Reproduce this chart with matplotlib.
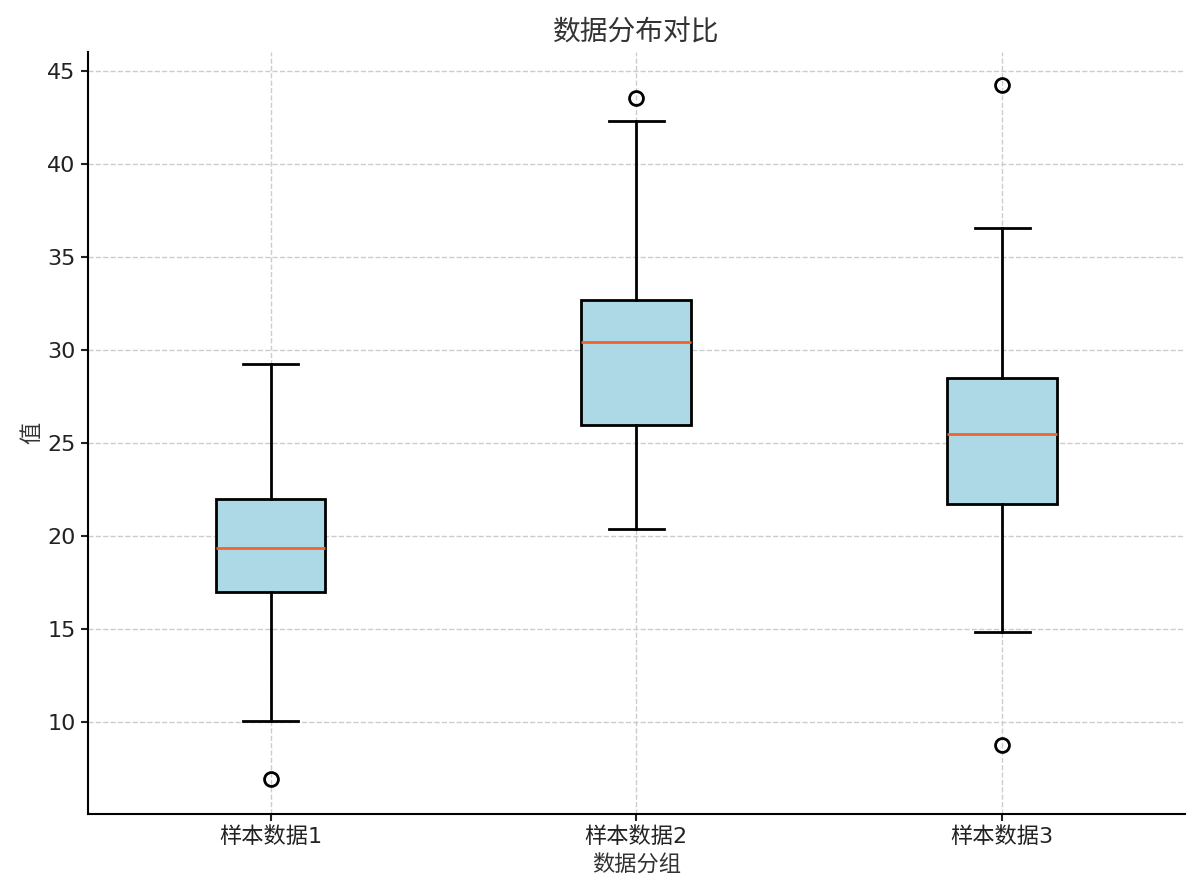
import matplotlib
matplotlib.use("Agg")
import matplotlib.pyplot as plt

plt.rcParams['font.family'] = ['DejaVu Sans', 'Noto Sans CJK SC']

categories = ["样本数据1", "样本数据2", "样本数据3"]
whislo = [10.05, 20.38, 14.84]
q1 = [16.99, 25.97, 21.72]
med = [19.35, 30.43, 25.48]
q3 = [21.99, 32.69, 28.49]
whishi = [29.25, 42.31, 36.56]
fliers = [[6.94], [43.55], [44.25, 8.76]]

title = "数据分布对比"
xlabel = "数据分组"
ylabel = "值"

stats = []
for i, lab in enumerate(categories):
    stats.append(dict(label=lab, whislo=whislo[i], q1=q1[i], med=med[i],
                      q3=q3[i], whishi=whishi[i], fliers=fliers[i]))

fig = plt.figure(figsize=(12, 8.96), dpi=100)
ax = fig.add_axes([0.073, 0.0915, 0.9145, 0.8505])
ax.set_axisbelow(True)
ax.grid(True, linestyle='--', color='#cccccc', linewidth=1.0)

ax.bxp(stats, widths=0.3, patch_artist=True,
       boxprops=dict(facecolor='lightblue', edgecolor='black', linewidth=2.0),
       medianprops=dict(color='#f2652a', linewidth=2.0),
       whiskerprops=dict(color='black', linewidth=2.0),
       capprops=dict(color='black', linewidth=2.0),
       flierprops=dict(marker='o', markerfacecolor='none', markeredgecolor='black',
                       markersize=10, markeredgewidth=2.0))

ax.set_xlim(0.5, 3.5)
ax.set_ylim(5.05, 46.05)
ax.set_yticks([10, 15, 20, 25, 30, 35, 40, 45])
ax.tick_params(axis='both', labelsize=16, width=1.5, length=5, colors='#222222')
for s in ['top', 'right']:
    ax.spines[s].set_visible(False)
for s in ['left', 'bottom']:
    ax.spines[s].set_linewidth(1.5)

ax.set_title(title, fontsize=20, color='#333333', pad=8)
ax.set_xlabel(xlabel, fontsize=16, color='#333333', labelpad=6)
ax.set_ylabel(ylabel, fontsize=16, color='#333333')

fig.savefig("out.png", dpi=100)
